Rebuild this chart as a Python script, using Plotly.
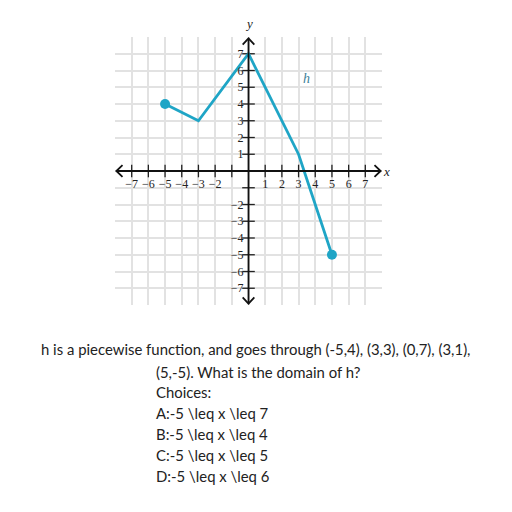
import plotly.graph_objects as go

# ---- data ----
x_pts = [-5, -3, 0, 3, 5]
y_pts = [4, 3, 7, 1, -5]
end_x = [-5, 5]
end_y = [4, -5]

tick_marks = [-7, -6, -5, -4, -3, -2, -1, 1, 2, 3, 4, 5, 6, 7]
x_label_vals = [-7, -6, -5, -4, -3, -2, 1, 2, 3, 4, 5, 6, 7]
x_label_text = ["\u22127", "\u22126", "\u22125", "\u22124", "\u22123", "\u22122",
                "1", "2", "3", "4", "5", "6", "7"]
y_label_vals = [-7, -6, -5, -4, -3, -2, 1, 2, 3, 4, 5, 6, 7]
y_label_text = ["\u22127", "\u22126", "\u22125", "\u22124", "\u22123", "\u22122",
                "1", "2", "3", "4", "5", "6", "7"]

question_first = "h is a piecewise function, and goes through (-5,4), (3,3), (0,7), (3,1),"
question_rest = [
    "(5,-5). What is the domain of h?",
    "Choices:",
    r"A:-5 \leq x \leq 7",
    r"B:-5 \leq x \leq 4",
    r"C:-5 \leq x \leq 5",
    r"D:-5 \leq x \leq 6",
]

LINE_COLOR = "#1fa5c6"
SERIF = "Liberation Serif"
SANS = "Lato"
TXT_SIZE = 14.9

fig = go.Figure()

# tick marks on axes
fig.add_trace(go.Scatter(x=tick_marks, y=[0] * len(tick_marks), mode="markers",
                         marker=dict(symbol="line-ns", size=9, line=dict(width=1.3, color="#222")),
                         hoverinfo="skip", showlegend=False, cliponaxis=False))
fig.add_trace(go.Scatter(x=[0] * len(tick_marks), y=tick_marks, mode="markers",
                         marker=dict(symbol="line-ew", size=9, line=dict(width=1.3, color="#222")),
                         hoverinfo="skip", showlegend=False, cliponaxis=False))

# function
fig.add_trace(go.Scatter(x=x_pts, y=y_pts, mode="lines",
                         line=dict(color=LINE_COLOR, width=2.8),
                         showlegend=False, cliponaxis=False))
fig.add_trace(go.Scatter(x=end_x, y=end_y, mode="markers",
                         marker=dict(color=LINE_COLOR, size=10),
                         showlegend=False, cliponaxis=False))

# axes lines with chevrons
AX = dict(color="#111", width=1.8)
shapes = [
    dict(type="line", xref="x", yref="y", x0=-7.92, x1=7.92, y0=0, y1=0, line=AX),
    dict(type="line", xref="x", yref="y", x0=0, x1=0, y0=-7.9, y1=7.9, line=AX),
    dict(type="path", xref="x", yref="y", path="M -7.55,0.35 L -7.92,0 L -7.55,-0.35", line=AX),
    dict(type="path", xref="x", yref="y", path="M 7.55,0.35 L 7.92,0 L 7.55,-0.35", line=AX),
    dict(type="path", xref="x", yref="y", path="M -0.35,7.55 L 0,7.92 L 0.35,7.55", line=AX),
    dict(type="path", xref="x", yref="y", path="M -0.35,-7.55 L 0,-7.92 L 0.35,-7.55", line=AX),
]

def px_to_paper_x(px):
    return (px - 115.4) / 267.2

def py_to_paper_y(py):
    return (305.0 - py) / 268.0

annotations = [
    dict(x=0.5, y=py_to_paper_y(33), xref="paper", yref="paper", text="<i>y</i>", showarrow=False,
         yanchor="bottom", font=dict(family=SERIF, size=13, color="#222")),
    dict(x=px_to_paper_x(393), y=0.5, xref="paper", yref="paper", text="<i>x</i>", showarrow=False,
         font=dict(family=SERIF, size=13, color="#222")),
    dict(x=3.45, y=5.55, xref="x", yref="y", text="<i>h</i>", showarrow=False,
         font=dict(family=SERIF, size=14, color="#3d7f99")),
]

annotations.append(dict(x=px_to_paper_x(256.5), y=py_to_paper_y(349), xref="paper", yref="paper",
                        text=question_first, showarrow=False, xanchor="center", yanchor="middle",
                        font=dict(family=SANS, size=TXT_SIZE, color="#222")))
line_ys = [372, 392, 413, 434, 455, 476]
for txt, py in zip(question_rest, line_ys):
    annotations.append(dict(x=px_to_paper_x(154), y=py_to_paper_y(py), xref="paper", yref="paper",
                            text=txt, showarrow=False, xanchor="left", yanchor="middle",
                            font=dict(family=SANS, size=TXT_SIZE, color="#222")))

GRID = "#e2e2e2"
def axis(vals, text, standoff):
    return dict(range=[-8, 8], anchor="free", position=0.5, showline=False, zeroline=False,
                automargin=False, tickmode="array", tickvals=vals, ticktext=text, ticks="",
                ticklabelstandoff=standoff,
                tickfont=dict(family=SERIF, size=12, color="#222"),
                showgrid=False,
                minor=dict(tickmode="linear", tick0=-8, dtick=1, showgrid=True,
                           gridcolor=GRID, gridwidth=1.6),
                fixedrange=True)

# page body has an 8px default margin, so the figure is drawn 8px in from the corner
fig.update_layout(
    width=504, height=504,
    margin=dict(l=107, r=130, t=29, b=207, autoexpand=False),
    paper_bgcolor="white", plot_bgcolor="white",
    shapes=shapes, annotations=annotations,
    xaxis=axis(x_label_vals, x_label_text, 4),
    yaxis=axis(y_label_vals, y_label_text, 5),
)

fig.write_html("out.html")
